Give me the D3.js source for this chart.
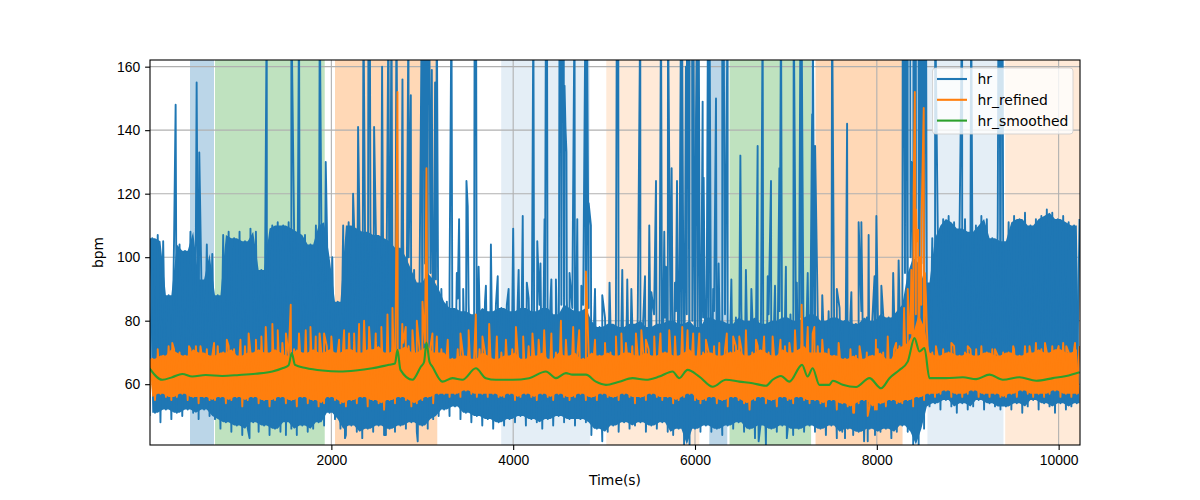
<!DOCTYPE html>
<html>
<head>
<meta charset="utf-8">
<script src="https://cdn.jsdelivr.net/npm/d3@7"></script>
<style>
body { margin: 0; background: #fff; }
svg { font-family: "DejaVu Sans", sans-serif; }
.axis text { font-size: 13.9px; fill: #000; }
.axis line { stroke: #000; stroke-width: 1.1; }
.axis path { display: none; }
.grid line { stroke: #b0b0b0; stroke-width: 1.1; }
</style>
</head>
<body>
<div class="chart"></div>
<script>
// DATA ------------------------------------

// hr and hr_refined: band low / band high per 60 s bin
const binStep = 60;
const hrHi = [106,107,105,88,106,104,102,108,108,93,104,101,88,
  107,108,106,108,105,109,108,96,109,110,111,110,111,109,108,107,104,110,111,111,
  100,86,110,111,110,109,108,110,107,108,106,105,103,104,100,96,92,98,95,93,90,
  86,84,87,83,85,82,84,86,83,85,84,85,83,86,84,87,83,85,84,86,82,85,87,84,83,85,84,
  80,78,81,79,80,78,82,79,81,80,78,82,79,81,80,83,79,82,80,78,81,
  81,83,80,82,79,81,83,80,82,81,79,82,80,83,81,82,80,81,83,82,
  82,80,83,81,84,80,82,79,83,81,80,84,82,81,83,85,95,100,105,98,92,
  106,110,112,113,111,109,112,108,110,113,112,106,109,105,111,113,112,114,110,112,113,115,114,112,113,111,110,112];
const hrLo = [50,51,48,52,49,51,50,52,51,49,52,50,49,
  46,48,45,47,44,46,48,45,47,44,46,45,48,46,44,47,45,46,48,47,
  51,49,46,44,47,45,43,46,45,47,44,46,45,47,46,48,45,47,46,49,50,
  52,50,53,49,51,48,50,47,49,46,48,47,49,48,50,47,49,48,46,49,47,50,48,49,47,49,48,
  44,46,42,45,47,45,48,46,47,48,45,47,46,48,45,44,46,41,41,46,45,
  47,45,46,44,47,46,48,45,46,43,47,41,46,45,47,46,44,46,45,47,
  45,46,44,47,43,45,46,44,45,42,46,44,45,46,43,45,47,45,41,40,46,
  53,54,52,55,53,51,54,52,53,55,52,54,53,52,53,52,54,51,53,55,52,54,53,51,54,52,53,54];
const refHi = [68,70,69,72,71,70,69,71,72,70,71,69,72,
  70,72,71,69,72,70,71,73,70,71,72,70,69,71,73,70,72,71,70,72,
  71,70,72,71,73,70,72,71,73,72,70,72,71,73,72,70,71,73,72,70,71,
  70,68,71,69,72,68,71,70,69,68,70,69,71,70,68,72,69,70,71,68,70,72,69,70,71,68,70,
  70,69,71,70,69,71,70,72,69,70,71,69,72,70,71,69,70,72,71,69,70,
  70,72,69,71,70,72,71,69,70,72,71,70,69,71,72,70,71,73,72,70,
  72,70,71,69,70,68,71,69,68,70,69,71,70,68,71,72,73,76,82,85,78,
  70,69,71,70,72,69,70,71,69,72,70,71,69,70,70,71,69,72,70,73,71,70,72,71,73,70,71,72];
const refLo = [56,55,57,56,55,56,57,55,56,54,56,55,55,
  56,54,55,56,53,55,56,54,55,53,55,56,54,55,53,56,54,55,53,54,
  56,55,54,53,55,54,56,53,55,54,52,55,54,56,55,53,54,55,56,54,57,
  57,56,57,56,58,57,56,57,56,57,56,56,57,55,56,57,56,55,57,56,55,57,56,55,56,57,55,
  56,55,57,56,56,55,57,56,54,56,55,57,56,55,56,54,55,56,57,55,54,
  55,56,54,55,53,56,55,54,52,55,56,54,55,53,56,55,54,56,55,54,
  55,54,53,55,52,54,53,51,54,55,53,52,54,53,55,54,54,55,53,56,55,
  57,56,57,58,56,57,56,57,58,56,57,56,57,56,56,57,56,58,57,56,57,56,57,58,56,57,56,57];

// tall single-sample spikes of hr (180 = beyond the top of the axes)
const hrSpikeT = [287,518,547,1289,1560,1644,1872,1938,2239,2294,2353,2408,2423,2470,2558,2628,2661,2716,2782,2848,2874,
  2995,3010,3022,3034,3048,3061,3077,3105,3141,3160,3321,3405,3486,3500,3576,3592,3755,4000,4105,4222,4265,4345,4360,4372,
  4510,4525,4540,4556,4565,4575,4586,4675,4705,4795,4812,4830,4855,5140,5156,5255,5398,5497,5571,5626,5662,5703,5743,5802,
  5846,5857,5900,5912,5926,5940,5955,5968,5982,6011,6025,6040,6084,6095,6143,6160,6231,6300,6315,6359,6499,6689,6744,6836,
  6928,6946,7086,7160,7172,7180,7288,7295,7321,7508,7673,7800,7830,7910,7975,7995,
  8285,8298,8312,8326,8340,8354,8368,8380,8392,8402,8416,8430,8444,8458,8472,8486,8500,8514,8528,8542,
  8642,8938,9038,9338,9352,9368,9383];
const hrSpikeV = [148,155,133,180,180,180,180,130,120,141,180,180,180,141,160,180,180,180,156,180,151,
  180,180,180,125,180,180,180,159,155,180,180,112,124,116,180,180,104,109,113,180,105,112,180,180,
  180,180,180,180,154,141,133,180,112,180,180,117,110,180,180,93,180,110,124,180,108,180,128,124,
  180,180,160,180,180,180,180,180,180,144,180,180,149,125,180,180,150,180,180,180,132,135,180,124,
  128,180,180,180,180,140,145,180,135,180,142,111,111,107,94,113,
  180,180,180,180,180,180,180,130,128,180,180,180,180,180,180,180,180,180,180,180,
  180,180,180,180,180,180,180];
// short excursions of hr above and below its band
const hrMidT = [3300,3380,3450,3620,3700,3830,3950,4060,4150,4300,4420,4470,4620,4750,4900,4980,5060,5200,5300,5450,
  5520,5680,5780,6130,6200,6260,6400,6560,6620,6800,6880,7000,7120,7240,7400,7560,7720,8050,8180,8240,
  1100,1500,2150,2600,2950,6700,7010,7650,7900];
const hrMidV = [92,95,90,97,91,94,90,96,92,98,93,93,95,91,90,88,92,96,90,94,
  89,97,92,95,90,98,93,96,90,94,91,97,92,95,88,90,89,91,95,99,
  43,44,43,44,42,42,43,43,42];

// spikes of hr_refined above and below its band
const refSpikeT = [434,710,1000,1170,1278,1351,1461,1553,1644,1718,1828,1920,2085,2195,2305,2415,2488,2617,2672,2727,
  2818,2892,3002,3046,3112,3589,3662,3736,4212,4341,4525,4580,4726,4800,5130,5240,5350,5460,5552,5717,
  5918,6047,6267,6487,6671,6854,7038,7173,7294,7313,8213,8359,8405,8418,8432,8455,8475,8492,8516,8528,
  9093,9680,10084];
const refSpikeV = [72,73,74,74,78,79,73,85,76,77,75,76,74,76,79,78,76,82,84,152,
  78,77,86,128,76,82,75,79,76,77,80,74,77,95.5,75,73,76,74,75,77,
  77,76,73,75,74,75,73,85,76,78,73,76,120,152,115,108.6,100,112,147,95,
  71,72,72];
const refMidT = [90,250,560,850,1090,1230,1410,1500,1770,1870,2000,2140,2250,2360,2550,2780,2940,3160,3280,3420,
  3510,3820,3920,4030,4110,4280,4420,4660,4900,5010,5190,5410,5620,5780,5860,5980,6120,6350,6420,6560,
  6760,6940,7100,7240,7400,7580,7810,7990,8120,8650,8820,9000,9300,9500,9850,10000,10180,
  7750,7900,8000,8300,8340,8380,8440,8540];
const refMidV = [71,73,72,74,76,75,77,76,78,76,75,77,76,80,78,79,80,75,74,76,
  77,75,74,78,75,74,76,78,74,73,76,77,76,75,78,76,74,76,75,77,
  75,74,77,78,74,73,72,74,75,72,73,72,71,72,73,72,73,
  51,50,52,84,90,96,105,88];

// hr_smoothed
const smoothT = [0,140,250,360,470,617,800,984,1168,1351,1461,1530,1564,1600,1718,1901,2085,2268,2451,2635,
  2700,2727,2760,2892,2984,3020,3046,3080,3112,3222,3332,3442,3589,3699,3810,3993,4176,4360,4470,4580,
  4653,4800,4910,5020,5167,5313,5460,5607,5754,5827,5918,6047,6194,6340,6487,6634,6781,6854,6946,7038,
  7178,7239,7294,7368,7478,7515,7625,7772,7919,8048,8139,8249,8340,8414,8469,8524,8579,8763,8946,9093,
  9239,9386,9570,9753,9937,10084,10230];
const smoothV = [65.0,61.4,62.2,63.2,62.4,62.9,62.6,62.9,63.3,64.0,65.0,66,69.8,66.1,65.1,64.3,64.0,64.3,65.0,66.1,
  66.5,70.8,64.5,61.4,65.5,67,73.1,67,65.5,60.8,61.9,61.4,65.0,61.9,61.4,61.4,61.9,64.0,61.9,63.5,
  63.0,63.0,60.8,59.8,60.8,61.9,61.4,62.4,64.0,61.9,64.5,62.4,59.2,61.4,60.8,60.3,59.5,61.4,62.6,60.8,
  66.1,62.4,65.0,59.8,59.8,61.1,59.8,59.1,61.9,58.7,61.9,64.5,67.1,74.5,70.3,71.4,61.9,61.9,62.2,61.6,
  63.0,61.4,62.2,61.1,61.9,62.6,63.8];

// shaded stages
const spanStart = [445,720,2040,3868,5024,6157,6380,7326,8557,9412];
const spanEnd   = [709,1927,3165,4844,6048,6355,7277,8283,9393,10240];
const spanKind  = ["blue","green","orange","lblue","lorange","blue","green","orange","lblue","lorange"];

const xTicks = [2000,4000,6000,8000,10000];
const yTicks = [60,80,100,120,140,160];
const seriesNames = ["hr","hr_refined","hr_smoothed"];

// CHART INIT ------------------------------

const margin = ({top: 60, right: 120, bottom: 55, left: 150});
const width = 1200 - margin.left - margin.right;
const height = 500 - margin.top - margin.bottom;

const svg = d3.select(".chart").append("svg")
    .attr("width", width + margin.left + margin.right)
    .attr("height", height + margin.top + margin.bottom)
  .append("g")
    .attr("transform", "translate(" + margin.left + "," + margin.top + ")");

const xScale = d3.scaleLinear().domain([5, 10235]).range([0, width]);
const yScale = d3.scaleLinear().domain([40.85, 162.1]).range([height, 0]);

const spanStyle = {
  blue: ["#1f77b4", 0.3], green: ["#2ca02c", 0.3], orange: ["#ff7f0e", 0.3],
  lblue: ["#1f77b4", 0.12], lorange: ["#ff7f0e", 0.16]
};
const colors = ["#1f77b4", "#ff7f0e", "#2ca02c"];

svg.append("clipPath").attr("id", "plot-clip")
  .append("rect").attr("width", width).attr("height", height);

// spans
svg.append("g").selectAll("rect")
  .data(spanStart.map((s, i) => ({s: s, e: spanEnd[i], k: spanKind[i]})))
  .enter().append("rect")
  .attr("clip-path", "url(#plot-clip)")
  .attr("x", d => xScale(d.s))
  .attr("width", d => xScale(d.e) - xScale(d.s))
  .attr("y", 0)
  .attr("height", height)
  .attr("fill", d => spanStyle[d.k][0])
  .attr("fill-opacity", d => spanStyle[d.k][1]);

// grid
const grid = svg.append("g").attr("class", "grid");
grid.selectAll(".gx").data(xTicks).enter().append("line")
  .attr("x1", d => xScale(d)).attr("x2", d => xScale(d)).attr("y1", 0).attr("y2", height);
grid.selectAll(".gy").data(yTicks).enter().append("line")
  .attr("y1", d => yScale(d)).attr("y2", d => yScale(d)).attr("x1", 0).attr("x2", width);

// line vertices: low at bin start, high at bin middle, spikes at their own time
function zigzag(lo, hi, spikeT, spikeV) {
  const pts = [];
  hi.forEach((h, i) => {
    pts.push([i * binStep, lo[i]]);
    pts.push([i * binStep + binStep / 2, h]);
  });
  spikeT.forEach((t, i) => pts.push([t, spikeV[i]]));
  return pts.sort((a, b) => a[0] - b[0]);
}

const line = d3.line().x(d => xScale(d[0])).y(d => yScale(d[1]));

// solid core where neighbouring strokes overlap: top between two peaks, bottom between two valleys
const core = d3.area()
  .x1((d, i) => xScale(i * binStep))
  .y1((d, i, a) => yScale(Math.min(d.hi, (a[i - 1] || d).hi)))
  .x0((d, i) => xScale(i * binStep + binStep / 2))
  .y0((d, i, a) => yScale(Math.max(d.lo, (a[i + 1] || d).lo)));

const lines = svg.append("g").attr("clip-path", "url(#plot-clip)");

function drawSeries(lo, hi, spikeT, spikeV, color) {
  lines.append("path")
    .datum(lo.map((l, i) => ({lo: l, hi: hi[i]})))
    .attr("fill", color)
    .attr("d", core);
  lines.append("path")
    .datum(zigzag(lo, hi, spikeT, spikeV))
    .attr("fill", "none").attr("stroke", color).attr("stroke-width", 1.9)
    .attr("stroke-linejoin", "round")
    .attr("d", line);
}

drawSeries(hrLo, hrHi, hrSpikeT.concat(hrMidT), hrSpikeV.concat(hrMidV), colors[0]);
drawSeries(refLo, refHi, refSpikeT.concat(refMidT), refSpikeV.concat(refMidV), colors[1]);

lines.append("path")
  .datum(smoothT.map((t, i) => [t, smoothV[i]]))
  .attr("fill", "none").attr("stroke", colors[2]).attr("stroke-width", 2.1)
  .attr("d", d3.line().x(d => xScale(d[0])).y(d => yScale(d[1])).curve(d3.curveMonotoneX));

// frame
svg.append("rect").attr("width", width).attr("height", height)
  .attr("fill", "none").attr("stroke", "#000").attr("stroke-width", 1.1);

// axes
const xAxis = d3.axisBottom(xScale).tickValues(xTicks).tickSize(4.9).tickPadding(4.9).tickFormat(d3.format("d"));
const yAxis = d3.axisLeft(yScale).tickValues(yTicks).tickSize(4.9).tickPadding(4.9).tickFormat(d3.format("d"));

svg.append("g").attr("class", "axis x-axis")
  .attr("transform", `translate(0, ${height})`)
  .call(xAxis);
svg.append("g").attr("class", "axis y-axis").call(yAxis);

svg.append("text")
  .attr("x", width / 2).attr("y", height + 40)
  .attr("text-anchor", "middle").attr("font-size", "13.9px")
  .text("Time(s)");

svg.append("text")
  .attr("transform", `translate(${103 - margin.left}, ${height / 2}) rotate(-90)`)
  .attr("text-anchor", "middle").attr("font-size", "13.9px")
  .text("bpm");

// legend
const legend = svg.append("g").attr("transform", `translate(${932.5 - margin.left}, ${68 - margin.top})`);
legend.append("rect")
  .attr("width", 140.5).attr("height", 66).attr("rx", 3)
  .attr("fill", "#fff").attr("fill-opacity", 0.8)
  .attr("stroke", "#cccccc").attr("stroke-opacity", 0.8);
seriesNames.forEach((name, i) => {
  const y = 11 + i * 20.8;
  legend.append("line")
    .attr("x1", 4.5).attr("x2", 34.5).attr("y1", y).attr("y2", y)
    .attr("stroke", colors[i]).attr("stroke-width", 2.1);
  legend.append("text")
    .attr("x", 45).attr("y", y + 5)
    .attr("font-size", "13.9px")
    .text(name);
});
</script>
</body>
</html>
